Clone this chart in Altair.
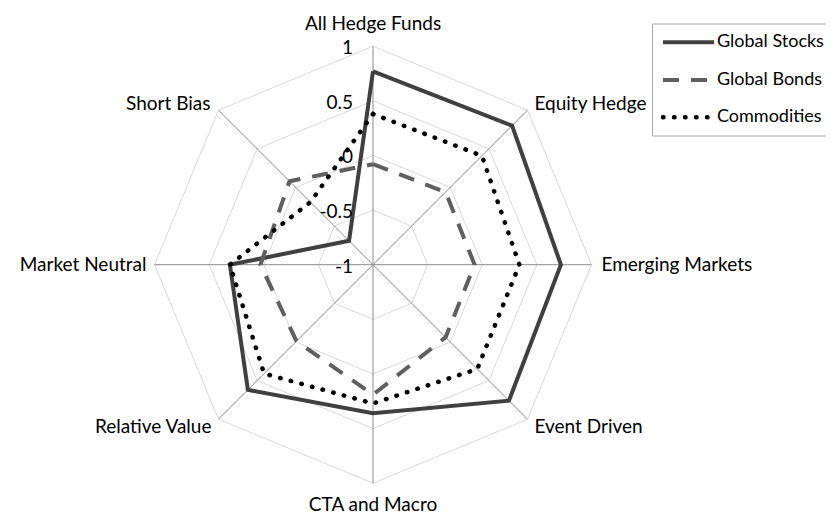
import altair as alt
import pandas as pd

# ---------------- data ----------------
categories = [
    "All Hedge Funds", "Equity Hedge", "Emerging Markets", "Event Driven",
    "CTA and Macro", "Relative Value", "Market Neutral", "Short Bias",
]
global_stocks = [0.77, 0.80, 0.72, 0.76, 0.36, 0.62, 0.31, -0.69]
global_bonds = [-0.08, -0.06, -0.07, -0.06, 0.19, -0.01, 0.03, 0.08]
commodities = [0.38, 0.41, 0.34, 0.35, 0.27, 0.41, 0.31, -0.19]
series_names = ["Global Stocks", "Global Bonds", "Commodities"]
tick_values = [-1, -0.5, 0, 0.5, 1]
tick_labels = ["-1", "-0.5", "0", "0.5", "1"]

# ---------------- layout ----------------
W, H = 818, 506
CX, CY, R = 365.0, 256.7, 218.5
N = len(categories)
x_dom = [-CX / R, (W - CX) / R]
y_dom = [-(H - CY) / R, CY / R]
FONT = "Lato"
FS = 19
LFS = 18
TXT = "#000000"

xs = alt.Scale(domain=x_dom, nice=False, zero=False)
ys = alt.Scale(domain=y_dom, nice=False, zero=False)


def X(f):
    return alt.X(f, type="quantitative", scale=xs, axis=None)


def Y(f):
    return alt.Y(f, type="quantitative", scale=ys, axis=None)


def polar(ch):
    return ch.transform_calculate(
        r="(datum.value + 1) / 2",
        a=f"datum.k * 2 * PI / {N}",
    ).transform_calculate(
        px="datum.r * sin(datum.a)",
        py="datum.r * cos(datum.a)",
    )


# ---------------- grid ----------------
ring_rows = [
    {"level": lv, "k": k, "value": lv}
    for lv in tick_values[1:]
    for k in range(N + 1)
]
rings = polar(alt.Chart(pd.DataFrame(ring_rows))).mark_line(
    color="#d9d9d9", strokeWidth=1
).encode(x=X("px"), y=Y("py"), detail="level:N", order="k:Q")

spoke_df = pd.DataFrame({"k": list(range(N)), "value": [1] * N, "category": categories})
spokes = polar(alt.Chart(spoke_df)).transform_calculate(
    x0="0", y0="0"
).mark_rule(color="#8c8c8c", strokeWidth=1).encode(
    x=X("x0"), y=Y("y0"), x2=alt.X2("px"), y2=alt.Y2("py")
)

tick_df = pd.DataFrame({"value": tick_values, "label": tick_labels, "k": [0] * len(tick_values)})
tick_text = polar(alt.Chart(tick_df)).mark_text(
    align="right", baseline="middle", dx=-20, dy=2, font=FONT, fontSize=FS, color=TXT
).encode(x=X("px"), y=Y("py"), text="label:N")

# category labels
label_style = [
    dict(align="center", dx=0, dy=-22),
    dict(align="left", dx=7, dy=-6),
    dict(align="left", dx=10, dy=0),
    dict(align="left", dx=7, dy=8),
    dict(align="center", dx=0, dy=22),
    dict(align="right", dx=-7, dy=8),
    dict(align="right", dx=-8, dy=0),
    dict(align="right", dx=-8, dy=-6),
]
cat_layers = []
for k, st in enumerate(label_style):
    cat_layers.append(
        polar(alt.Chart(spoke_df)).transform_filter(alt.datum.k == k).mark_text(
            baseline="middle", font=FONT, fontSize=FS, color=TXT, **st
        ).encode(x=X("px"), y=Y("py"), text="category:N")
    )

# ---------------- series ----------------
rows = []
for s, vals in zip(series_names, [global_stocks, global_bonds, commodities]):
    for k in range(N + 1):
        rows.append({"series": s, "k": k, "category": categories[k % N], "value": vals[k % N]})
sdf = pd.DataFrame(rows)

styles = {
    "Global Stocks": dict(color="#404040", strokeWidth=4, strokeJoin="miter"),
    "Global Bonds": dict(color="#5f5f5f", strokeWidth=4, strokeDash=[16, 12], strokeJoin="miter"),
    "Commodities": dict(color="#000000", strokeWidth=4.5, strokeDash=[0.5, 10.5], strokeCap="round"),
}
series_layers = []
for s in series_names:
    series_layers.append(
        polar(alt.Chart(sdf)).transform_filter(alt.datum.series == s).mark_line(
            **styles[s]
        ).encode(x=X("px"), y=Y("py"), order="k:Q")
    )

# ---------------- legend ----------------
one = pd.DataFrame({"a": [0]})
legend_layers = [
    alt.Chart(one).mark_rect(fill="white", stroke="#a6a6a6", strokeWidth=1).encode(
        x=alt.value(644.5), x2=alt.value(880), y=alt.value(16), y2=alt.value(128)
    )
]
leg_y = [34.3, 72, 109.3]
for s, yy in zip(series_names, leg_y):
    st = dict(styles[s])
    st.pop("strokeJoin", None)
    legend_layers.append(
        alt.Chart(one).mark_rule(**st).encode(
            x=alt.value(655), x2=alt.value(706), y=alt.value(yy), y2=alt.value(yy)
        )
    )
    legend_layers.append(
        alt.Chart(pd.DataFrame({"label": [s]})).mark_text(
            align="left", baseline="middle", font=FONT, fontSize=LFS, color=TXT
        ).encode(x=alt.value(709), y=alt.value(yy), text="label:N")
    )

chart = alt.layer(
    rings, spokes, *series_layers, tick_text, *cat_layers, *legend_layers
).properties(
    width=W, height=H, padding=0, autosize=alt.AutoSizeParams(type="none")
).configure_view(strokeWidth=0)

chart.save("out.html", embed_options={"renderer": "svg", "actions": False})
